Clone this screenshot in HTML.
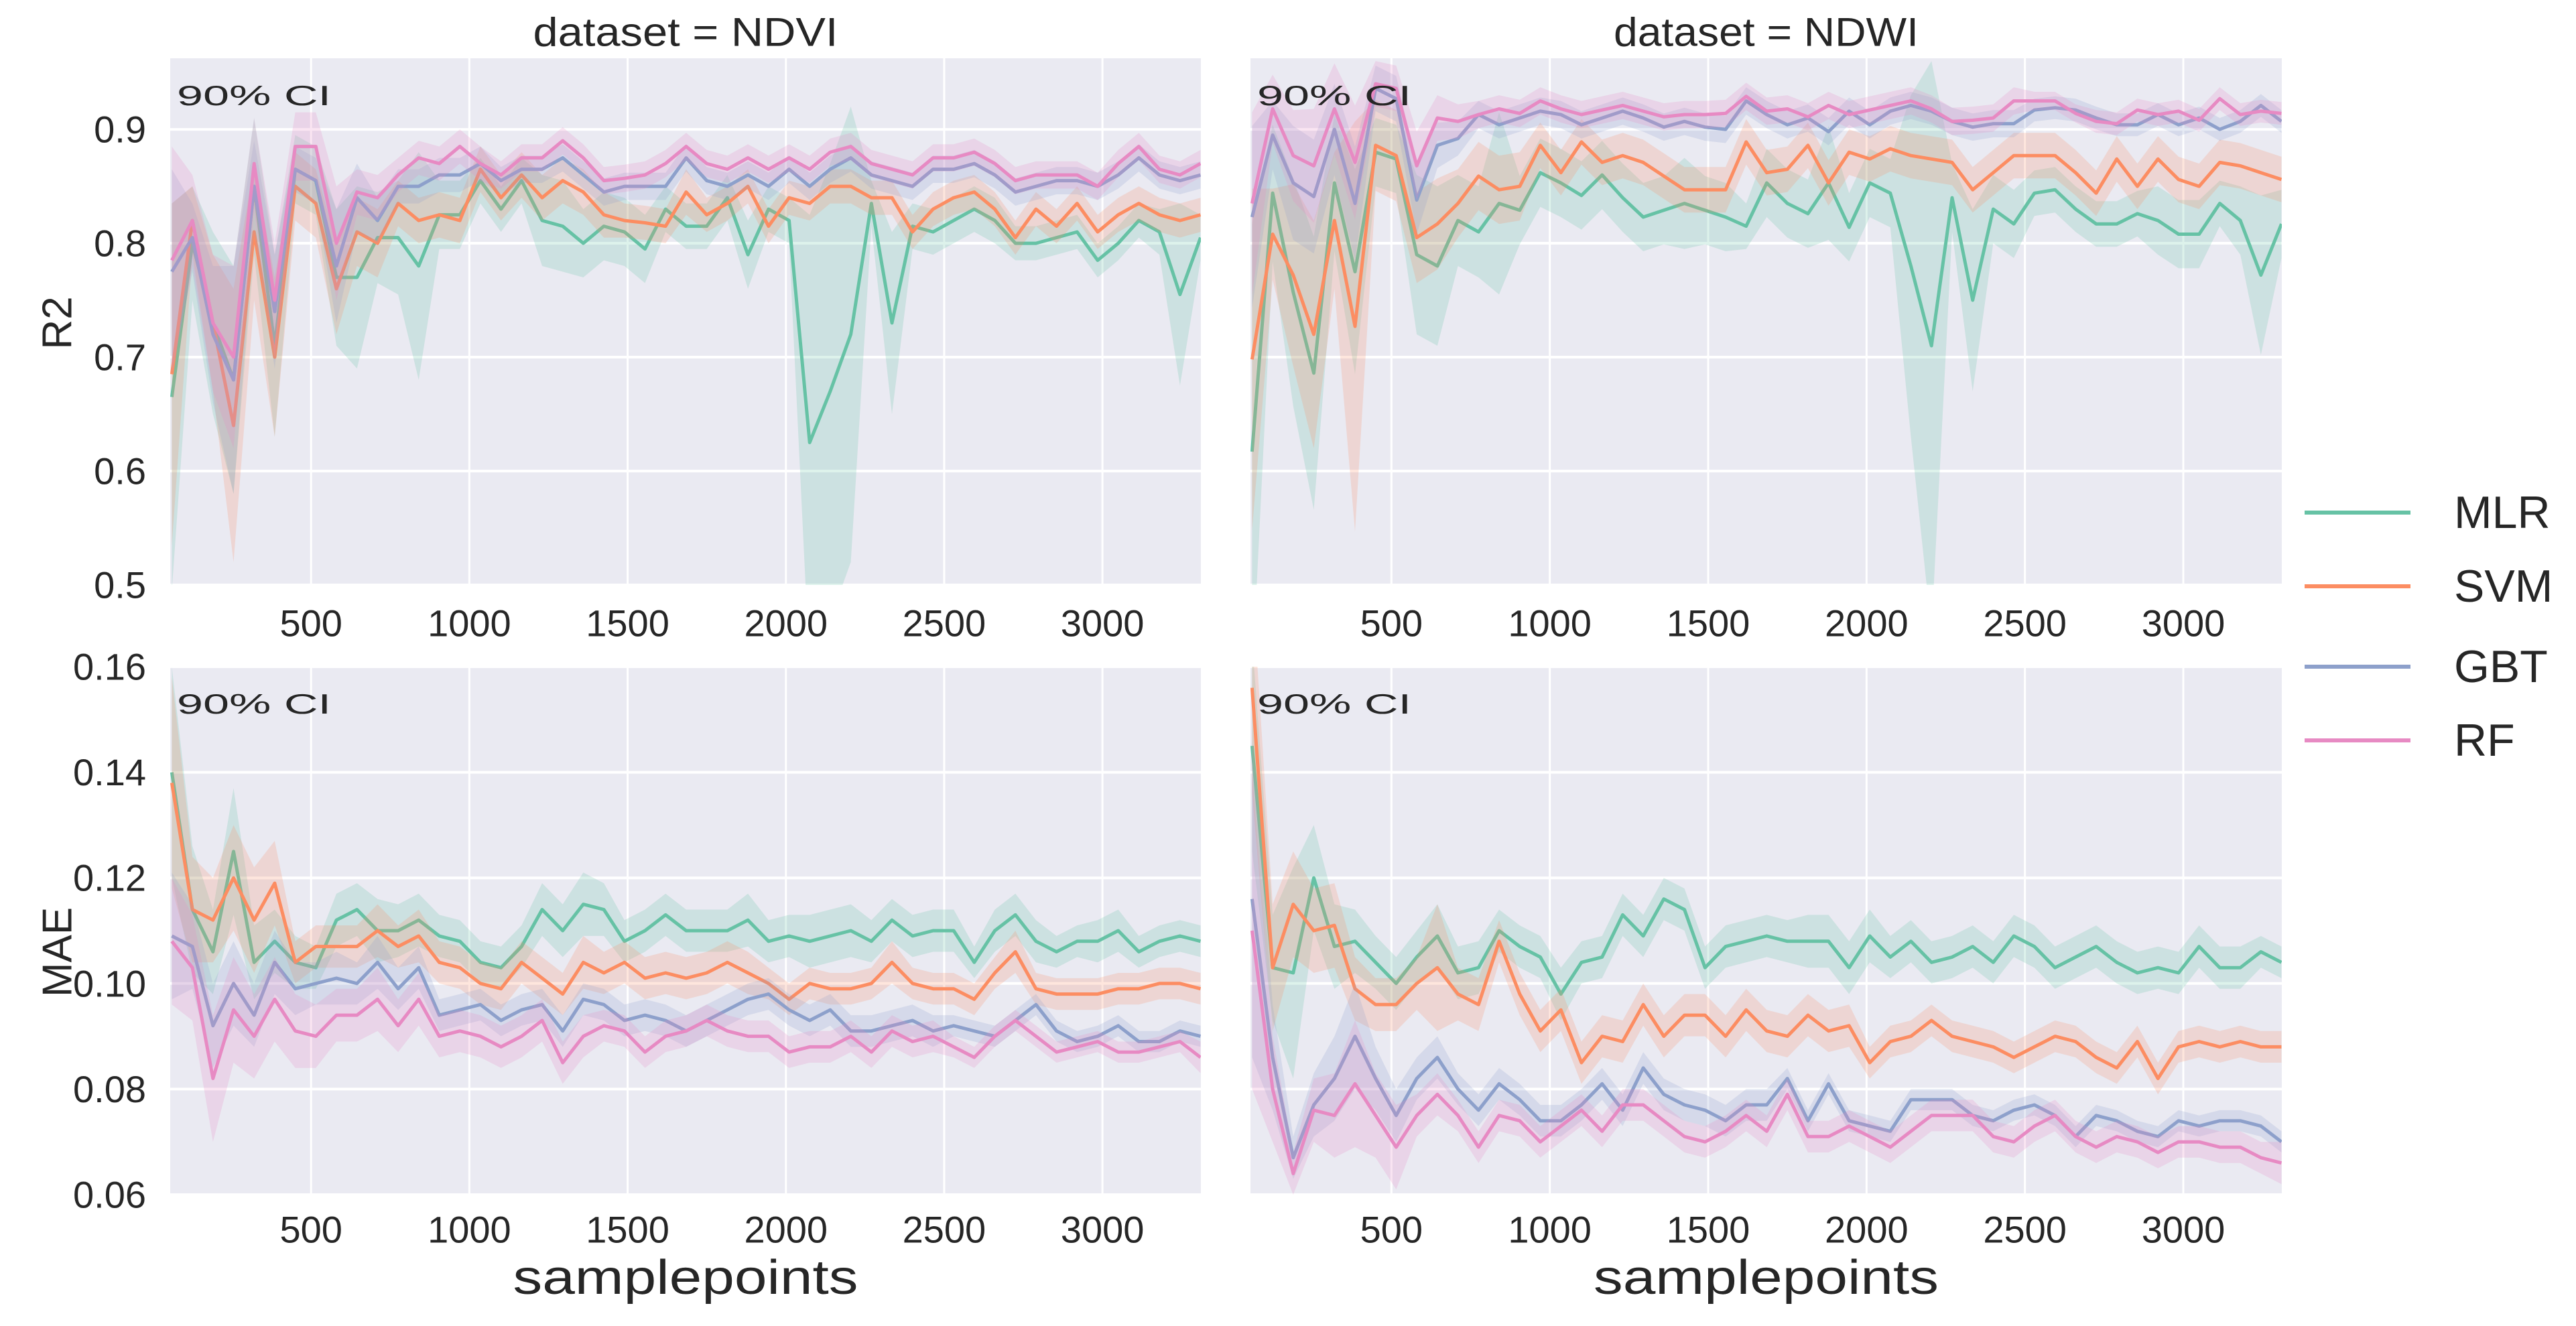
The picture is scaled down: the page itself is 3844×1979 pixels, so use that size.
<!DOCTYPE html>
<html><head><meta charset="utf-8"><title>Learning curves</title>
<style>html,body{margin:0;padding:0;background:#fff}svg{display:block}text{font-family:"Liberation Sans",sans-serif;fill:#262626}</style>
</head><body>
<svg id="chart" xmlns="http://www.w3.org/2000/svg" width="3844" height="1979" viewBox="0 0 3844 1979"></svg>
<script>
// ---- data ----
const modelNames = ["MLR","SVM","GBT","RF"];
const modelColors = ["#66c2a5","#fc8d62","#8da0cb","#e78ac3"];
const xTicks = [500,1000,1500,2000,2500,3000];
const r2Ticks = [0.5,0.6,0.7,0.8,0.9];
const r2TickLabels = ["0.5","0.6","0.7","0.8","0.9"];
const maeTicks = [0.06,0.08,0.10,0.12,0.14,0.16];
const maeTickLabels = ["0.06","0.08","0.10","0.12","0.14","0.16"];
const sampleStart = 60, sampleEnd = 3310;

const ndviR2MLR = [0.665,0.80,0.73,0.68,0.85,0.71,0.865,0.855,0.77,0.77,0.805,0.805,0.78,0.825,0.825,0.855,0.83,0.855,0.82,0.815,0.80,0.815,0.81,0.795,0.83,0.815,0.815,0.84,0.79,0.83,0.82,0.625,0.67,0.72,0.835,0.73,0.815,0.81,0.82,0.83,0.82,0.80,0.80,0.805,0.81,0.785,0.80,0.82,0.81,0.755,0.805];
const ndviR2SVM = [0.685,0.82,0.73,0.64,0.81,0.70,0.85,0.835,0.76,0.81,0.80,0.835,0.82,0.825,0.82,0.865,0.84,0.86,0.84,0.855,0.845,0.825,0.82,0.818,0.815,0.845,0.825,0.835,0.85,0.815,0.84,0.835,0.85,0.85,0.84,0.84,0.81,0.83,0.84,0.845,0.83,0.805,0.83,0.815,0.835,0.81,0.825,0.835,0.825,0.82,0.825];
const ndviR2GBT = [0.775,0.805,0.72,0.68,0.85,0.74,0.865,0.855,0.78,0.84,0.82,0.85,0.85,0.86,0.86,0.87,0.855,0.865,0.865,0.875,0.86,0.845,0.85,0.85,0.85,0.875,0.855,0.85,0.86,0.85,0.865,0.85,0.865,0.875,0.86,0.855,0.85,0.865,0.865,0.87,0.86,0.845,0.85,0.855,0.855,0.85,0.86,0.875,0.86,0.855,0.86];
const ndviR2RF = [0.785,0.82,0.73,0.70,0.87,0.75,0.885,0.885,0.80,0.845,0.84,0.86,0.875,0.87,0.885,0.87,0.86,0.875,0.875,0.89,0.875,0.855,0.857,0.86,0.87,0.885,0.87,0.865,0.875,0.865,0.875,0.865,0.88,0.885,0.87,0.865,0.86,0.875,0.875,0.88,0.87,0.855,0.86,0.86,0.86,0.85,0.87,0.885,0.865,0.86,0.87];
const ndviR2MLRci = [0.17,0.05,0.08,0.1,0.06,0.08,0.03,0.03,0.06,0.08,0.04,0.05,0.1,0.03,0.03,0.02,0.02,0.02,0.04,0.04,0.03,0.03,0.03,0.03,0.02,0.02,0.02,0.02,0.03,0.02,0.02,0.2,0.2,0.2,0.02,0.08,0.02,0.02,0.02,0.02,0.02,0.015,0.015,0.015,0.015,0.015,0.015,0.015,0.02,0.08,0.02];
const ndviR2SVMci = [0.15,0.03,0.06,0.12,0.06,0.07,0.03,0.03,0.04,0.03,0.03,0.02,0.02,0.02,0.02,0.02,0.02,0.02,0.02,0.02,0.02,0.02,0.015,0.015,0.015,0.02,0.015,0.015,0.015,0.015,0.015,0.015,0.015,0.015,0.015,0.015,0.015,0.015,0.015,0.015,0.015,0.015,0.015,0.015,0.015,0.015,0.015,0.015,0.015,0.015,0.015];
const ndviR2GBTci = [0.09,0.03,0.06,0.1,0.04,0.05,0.02,0.02,0.05,0.03,0.02,0.015,0.015,0.015,0.015,0.015,0.012,0.012,0.012,0.012,0.012,0.012,0.012,0.012,0.012,0.012,0.012,0.012,0.012,0.012,0.012,0.012,0.012,0.012,0.012,0.012,0.012,0.012,0.012,0.012,0.012,0.012,0.012,0.012,0.012,0.012,0.012,0.012,0.012,0.012,0.012];
const ndviR2RFci = [0.1,0.04,0.06,0.08,0.04,0.05,0.03,0.03,0.05,0.02,0.02,0.015,0.015,0.015,0.015,0.015,0.012,0.012,0.012,0.012,0.012,0.012,0.012,0.012,0.012,0.012,0.012,0.012,0.012,0.012,0.012,0.012,0.012,0.012,0.012,0.012,0.012,0.012,0.012,0.012,0.012,0.012,0.012,0.012,0.012,0.012,0.012,0.012,0.012,0.012,0.012];

const ndwiR2MLR = [0.617,0.844,0.757,0.686,0.853,0.775,0.88,0.874,0.79,0.78,0.82,0.81,0.835,0.829,0.862,0.853,0.842,0.86,0.84,0.823,0.829,0.835,0.829,0.823,0.815,0.853,0.835,0.826,0.853,0.814,0.853,0.844,0.78,0.71,0.84,0.75,0.83,0.817,0.844,0.847,0.83,0.817,0.817,0.826,0.82,0.808,0.808,0.835,0.82,0.772,0.817];
const ndwiR2SVM = [0.698,0.808,0.772,0.72,0.82,0.727,0.886,0.877,0.805,0.817,0.835,0.859,0.847,0.85,0.886,0.862,0.889,0.871,0.877,0.871,0.859,0.847,0.847,0.847,0.889,0.862,0.865,0.886,0.853,0.88,0.874,0.883,0.877,0.874,0.871,0.847,0.862,0.877,0.877,0.877,0.862,0.844,0.874,0.85,0.874,0.856,0.85,0.871,0.868,0.862,0.856];
const ndwiR2GBT = [0.823,0.895,0.853,0.841,0.9,0.835,0.936,0.927,0.838,0.886,0.892,0.913,0.904,0.91,0.916,0.913,0.904,0.91,0.916,0.91,0.902,0.907,0.902,0.9,0.925,0.913,0.904,0.91,0.898,0.916,0.904,0.916,0.921,0.916,0.907,0.902,0.905,0.905,0.917,0.919,0.917,0.91,0.904,0.904,0.913,0.904,0.91,0.9,0.907,0.921,0.907];
const ndwiR2RF = [0.835,0.918,0.877,0.868,0.918,0.871,0.94,0.936,0.868,0.91,0.907,0.913,0.918,0.914,0.925,0.918,0.913,0.917,0.921,0.916,0.911,0.913,0.913,0.914,0.929,0.916,0.918,0.911,0.921,0.913,0.917,0.921,0.925,0.918,0.907,0.908,0.91,0.925,0.925,0.925,0.914,0.907,0.905,0.917,0.913,0.916,0.908,0.927,0.913,0.916,0.914];
const ndwiR2MLRci = [0.2,0.06,0.1,0.12,0.06,0.09,0.03,0.03,0.07,0.07,0.04,0.04,0.08,0.03,0.03,0.03,0.03,0.03,0.03,0.03,0.03,0.04,0.03,0.03,0.02,0.03,0.03,0.03,0.05,0.03,0.03,0.03,0.15,0.25,0.03,0.08,0.03,0.03,0.02,0.02,0.02,0.02,0.02,0.02,0.03,0.03,0.03,0.02,0.03,0.07,0.03];
const ndwiR2SVMci = [0.15,0.04,0.08,0.1,0.06,0.18,0.04,0.04,0.04,0.04,0.03,0.03,0.03,0.03,0.02,0.02,0.02,0.02,0.02,0.02,0.02,0.02,0.02,0.02,0.02,0.02,0.02,0.02,0.02,0.02,0.02,0.02,0.02,0.02,0.02,0.02,0.02,0.02,0.02,0.02,0.02,0.02,0.02,0.02,0.02,0.02,0.02,0.02,0.02,0.02,0.02];
const ndwiR2GBTci = [0.08,0.03,0.05,0.05,0.04,0.05,0.02,0.02,0.03,0.02,0.015,0.012,0.012,0.012,0.012,0.012,0.012,0.012,0.012,0.012,0.012,0.012,0.012,0.012,0.012,0.012,0.012,0.012,0.012,0.012,0.012,0.012,0.012,0.012,0.012,0.012,0.012,0.012,0.01,0.01,0.01,0.01,0.01,0.01,0.01,0.01,0.01,0.01,0.01,0.01,0.01];
const ndwiR2RFci = [0.08,0.03,0.04,0.05,0.04,0.05,0.02,0.02,0.03,0.02,0.015,0.012,0.012,0.012,0.012,0.012,0.012,0.012,0.012,0.012,0.012,0.012,0.012,0.012,0.012,0.012,0.012,0.012,0.012,0.012,0.012,0.012,0.012,0.012,0.012,0.012,0.012,0.012,0.008,0.008,0.008,0.01,0.01,0.01,0.01,0.01,0.01,0.01,0.01,0.01,0.01];

const ndviMaeMLR = [0.140,0.114,0.106,0.125,0.104,0.108,0.104,0.103,0.112,0.114,0.110,0.110,0.112,0.109,0.108,0.104,0.103,0.107,0.114,0.110,0.115,0.114,0.108,0.110,0.113,0.110,0.110,0.110,0.112,0.108,0.109,0.108,0.109,0.110,0.108,0.112,0.109,0.110,0.110,0.104,0.110,0.113,0.108,0.106,0.108,0.108,0.110,0.106,0.108,0.109,0.108];
const ndviMaeSVM = [0.138,0.114,0.112,0.120,0.112,0.119,0.104,0.107,0.107,0.107,0.110,0.107,0.109,0.104,0.103,0.100,0.099,0.104,0.101,0.098,0.104,0.102,0.104,0.101,0.102,0.101,0.102,0.104,0.102,0.100,0.097,0.100,0.099,0.099,0.100,0.104,0.100,0.099,0.099,0.097,0.102,0.106,0.099,0.098,0.098,0.098,0.099,0.099,0.100,0.100,0.099];
const ndviMaeGBT = [0.109,0.107,0.092,0.100,0.094,0.104,0.099,0.100,0.101,0.100,0.104,0.099,0.103,0.094,0.095,0.096,0.093,0.095,0.096,0.091,0.097,0.096,0.093,0.094,0.093,0.091,0.093,0.095,0.097,0.098,0.095,0.093,0.095,0.091,0.091,0.092,0.093,0.091,0.092,0.091,0.090,0.093,0.096,0.091,0.089,0.090,0.092,0.089,0.089,0.091,0.090];
const ndviMaeRF = [0.108,0.103,0.082,0.095,0.090,0.097,0.091,0.090,0.094,0.094,0.097,0.092,0.097,0.090,0.091,0.090,0.088,0.090,0.093,0.085,0.090,0.092,0.091,0.087,0.090,0.091,0.093,0.091,0.090,0.090,0.087,0.088,0.088,0.090,0.087,0.091,0.089,0.090,0.088,0.086,0.090,0.093,0.090,0.087,0.088,0.089,0.087,0.087,0.088,0.089,0.086];
const ndviMaeMLRci = [0.02,0.012,0.008,0.012,0.007,0.006,0.005,0.004,0.005,0.005,0.006,0.005,0.005,0.004,0.004,0.004,0.004,0.004,0.005,0.005,0.006,0.005,0.004,0.004,0.004,0.004,0.004,0.004,0.005,0.004,0.004,0.005,0.005,0.005,0.004,0.004,0.004,0.004,0.004,0.003,0.004,0.004,0.004,0.003,0.003,0.004,0.004,0.003,0.003,0.003,0.003];
const ndviMaeSVMci = [0.02,0.01,0.008,0.01,0.01,0.008,0.004,0.004,0.004,0.004,0.005,0.004,0.005,0.004,0.004,0.004,0.004,0.004,0.004,0.004,0.005,0.004,0.004,0.004,0.004,0.004,0.004,0.004,0.004,0.003,0.003,0.003,0.003,0.003,0.003,0.004,0.003,0.003,0.003,0.003,0.003,0.004,0.003,0.003,0.003,0.003,0.003,0.003,0.003,0.003,0.003];
const ndviMaeGBTci = [0.012,0.008,0.008,0.008,0.006,0.006,0.005,0.004,0.005,0.004,0.005,0.004,0.004,0.003,0.003,0.003,0.003,0.003,0.003,0.003,0.003,0.003,0.003,0.003,0.003,0.003,0.003,0.003,0.003,0.003,0.003,0.003,0.003,0.003,0.003,0.003,0.003,0.003,0.002,0.002,0.002,0.002,0.002,0.002,0.002,0.002,0.002,0.002,0.002,0.002,0.002];
const ndviMaeRFci = [0.012,0.01,0.012,0.01,0.008,0.008,0.007,0.006,0.005,0.005,0.006,0.005,0.005,0.004,0.004,0.004,0.004,0.004,0.004,0.004,0.004,0.003,0.003,0.003,0.003,0.003,0.003,0.003,0.003,0.003,0.003,0.003,0.003,0.003,0.003,0.003,0.003,0.003,0.002,0.002,0.002,0.002,0.002,0.002,0.002,0.002,0.002,0.002,0.002,0.002,0.003];

const ndwiMaeMLR = [0.145,0.103,0.102,0.120,0.107,0.108,0.104,0.100,0.105,0.109,0.102,0.103,0.110,0.107,0.105,0.098,0.104,0.105,0.113,0.109,0.116,0.114,0.103,0.107,0.108,0.109,0.108,0.108,0.108,0.103,0.109,0.105,0.108,0.104,0.105,0.107,0.104,0.109,0.107,0.103,0.105,0.107,0.104,0.102,0.103,0.102,0.107,0.103,0.103,0.106,0.104];
const ndwiMaeSVM = [0.156,0.103,0.115,0.110,0.111,0.099,0.096,0.096,0.100,0.103,0.098,0.096,0.108,0.098,0.091,0.095,0.085,0.090,0.089,0.096,0.090,0.094,0.094,0.090,0.095,0.091,0.090,0.094,0.091,0.092,0.085,0.089,0.090,0.093,0.090,0.089,0.088,0.086,0.088,0.090,0.089,0.086,0.084,0.089,0.082,0.088,0.089,0.088,0.089,0.088,0.088];
const ndwiMaeGBT = [0.116,0.086,0.067,0.077,0.082,0.090,0.082,0.075,0.082,0.086,0.080,0.076,0.081,0.078,0.074,0.074,0.077,0.081,0.076,0.084,0.079,0.077,0.076,0.074,0.077,0.077,0.082,0.074,0.081,0.074,0.073,0.072,0.078,0.078,0.078,0.075,0.074,0.076,0.077,0.075,0.071,0.075,0.074,0.072,0.071,0.074,0.073,0.074,0.074,0.073,0.070];
const ndwiMaeRF = [0.110,0.080,0.064,0.076,0.075,0.081,0.075,0.069,0.075,0.079,0.075,0.069,0.075,0.074,0.070,0.073,0.076,0.072,0.077,0.077,0.074,0.071,0.070,0.072,0.075,0.072,0.079,0.071,0.071,0.073,0.071,0.069,0.072,0.075,0.075,0.075,0.071,0.070,0.073,0.075,0.071,0.069,0.071,0.070,0.068,0.070,0.070,0.069,0.069,0.067,0.066];
const ndwiMaeMLRci = [0.02,0.01,0.02,0.01,0.008,0.006,0.005,0.005,0.005,0.006,0.005,0.005,0.004,0.004,0.004,0.005,0.004,0.004,0.004,0.004,0.004,0.004,0.004,0.004,0.004,0.004,0.004,0.005,0.005,0.005,0.005,0.004,0.004,0.004,0.004,0.004,0.004,0.004,0.004,0.004,0.004,0.004,0.004,0.004,0.004,0.004,0.004,0.004,0.004,0.003,0.003];
const ndwiMaeSVMci = [0.02,0.012,0.01,0.008,0.008,0.006,0.005,0.005,0.005,0.012,0.005,0.005,0.004,0.004,0.004,0.004,0.004,0.004,0.004,0.004,0.004,0.004,0.004,0.004,0.004,0.004,0.004,0.004,0.004,0.004,0.003,0.003,0.003,0.003,0.003,0.003,0.003,0.003,0.003,0.003,0.003,0.003,0.003,0.003,0.003,0.003,0.003,0.003,0.003,0.003,0.003];
const ndwiMaeGBTci = [0.03,0.01,0.004,0.006,0.008,0.01,0.006,0.005,0.004,0.004,0.003,0.003,0.003,0.003,0.003,0.003,0.003,0.003,0.003,0.003,0.003,0.003,0.003,0.003,0.003,0.003,0.002,0.002,0.002,0.002,0.002,0.002,0.002,0.002,0.002,0.002,0.002,0.002,0.002,0.002,0.002,0.002,0.002,0.002,0.002,0.002,0.002,0.002,0.002,0.002,0.002];
const ndwiMaeRFci = [0.03,0.01,0.004,0.006,0.008,0.012,0.008,0.008,0.004,0.004,0.003,0.003,0.003,0.003,0.003,0.003,0.003,0.003,0.003,0.003,0.003,0.003,0.003,0.003,0.003,0.003,0.003,0.003,0.003,0.003,0.003,0.003,0.003,0.003,0.003,0.003,0.003,0.003,0.003,0.003,0.003,0.003,0.003,0.003,0.003,0.003,0.003,0.003,0.003,0.003,0.004];

// ---- layout ----
const NS = "http://www.w3.org/2000/svg";
const svg = document.getElementById("chart");
function mk(tag, attrs, parent){
  const e = document.createElementNS(NS, tag);
  for (const k in attrs) e.setAttribute(k, attrs[k]);
  (parent||svg).appendChild(e);
  return e;
}
const panels = [
  {id:"ndvi-r2", x0:254, x1:1792, y0:87, y1:873, dmin:0.5, dmax:0.9624, ticks:r2Ticks, labels:r2TickLabels, showY:true, title:"dataset = NDVI",
   series:[ndviR2MLR,ndviR2SVM,ndviR2GBT,ndviR2RF], ci:[ndviR2MLRci,ndviR2SVMci,ndviR2GBTci,ndviR2RFci], xlabelY:930, showXTitle:false},
  {id:"ndwi-r2", x0:1866, x1:3405, y0:87, y1:873, dmin:0.5, dmax:0.9624, ticks:r2Ticks, labels:r2TickLabels, showY:false, title:"dataset = NDWI",
   series:[ndwiR2MLR,ndwiR2SVM,ndwiR2GBT,ndwiR2RF], ci:[ndwiR2MLRci,ndwiR2SVMci,ndwiR2GBTci,ndwiR2RFci], xlabelY:930, showXTitle:false},
  {id:"ndvi-mae", x0:254, x1:1792, y0:995, y1:1783, dmin:0.06, dmax:0.16, ticks:maeTicks, labels:maeTickLabels, showY:true, title:null,
   series:[ndviMaeMLR,ndviMaeSVM,ndviMaeGBT,ndviMaeRF], ci:[ndviMaeMLRci,ndviMaeSVMci,ndviMaeGBTci,ndviMaeRFci], xlabelY:1835, showXTitle:true},
  {id:"ndwi-mae", x0:1866, x1:3405, y0:995, y1:1783, dmin:0.06, dmax:0.16, ticks:maeTicks, labels:maeTickLabels, showY:false, title:null,
   series:[ndwiMaeMLR,ndwiMaeSVM,ndwiMaeGBT,ndwiMaeRF], ci:[ndwiMaeMLRci,ndwiMaeSVMci,ndwiMaeGBTci,ndwiMaeRFci], xlabelY:1835, showXTitle:true}
];
const XMIN = 55, XMAX = 3311;

panels.forEach(p => {
  const g = mk("g", {});
  
  
  const sx = v => p.x0 + (v - XMIN) / (XMAX - XMIN) * (p.x1 - p.x0);
  const sy = v => p.y1 - (v - p.dmin) / (p.dmax - p.dmin) * (p.y1 - p.y0);
  const clipId = "clip-" + p.id;
  const defs = mk("defs", {}, g);
  const cp = mk("clipPath", {id: clipId}, defs);
  mk("rect", {x:p.x0, y:p.y0, width:p.x1-p.x0, height:p.y1-p.y0}, cp);
  const bg = mk("rect", {x:p.x0, y:p.y0, width:p.x1-p.x0, height:p.y1-p.y0, fill:"#eaeaf2"}, g);
  
  
  xTicks.forEach(t => {
    const gl = mk("line", {x1:sx(t), x2:sx(t), y1:p.y0, y2:p.y1, stroke:"#fff", "stroke-width":3}, g);
    
    
    const tl = mk("text", {x:sx(t), y:p.xlabelY, "font-size":56, "text-anchor":"middle", "dominant-baseline":"central"}, g);
    
    
    tl.textContent = t;
  });
  p.ticks.forEach((t, i) => {
    const gl = mk("line", {x1:p.x0, x2:p.x1, y1:sy(t), y2:sy(t), stroke:"#fff", "stroke-width":4}, g);
    
    
    if (p.showY) {
      const tl = mk("text", {x:218, y:sy(t), "font-size":56, "text-anchor":"end", "dominant-baseline":"central"}, g);
      
      
      tl.textContent = p.labels[i];
    }
  });
  const dg = mk("g", {"clip-path":"url(#" + clipId + ")"}, g);
  p.series.forEach((vals, si) => {
    const n = vals.length;
    const xs = vals.map((v, i) => sampleStart + i * (sampleEnd - sampleStart) / (n - 1));
    const ci = p.ci[si];
    let up = "", lo = "";
    vals.forEach((v, i) => { up += (i ? "L" : "M") + sx(xs[i]).toFixed(1) + "," + sy(v + ci[i]).toFixed(1); });
    for (let i = n - 1; i >= 0; i--) lo += "L" + sx(xs[i]).toFixed(1) + "," + sy(vals[i] - ci[i]).toFixed(1);
    const band = mk("path", {d: up + lo + "Z", fill: modelColors[si], "fill-opacity":0.22, stroke:"none"}, dg);
    
    
    let d = "";
    vals.forEach((v, i) => { d += (i ? "L" : "M") + sx(xs[i]).toFixed(1) + "," + sy(v).toFixed(1); });
    const line = mk("path", {d: d, fill:"none", stroke: modelColors[si], "stroke-width":5, "stroke-linejoin":"round"}, dg);
    
    
  });
  const ci = mk("text", {x:p.x0 + 10, y:p.y0 + 70, "font-size":42, "font-family":"DejaVu Sans, sans-serif", textLength:230, lengthAdjust:"spacingAndGlyphs", fill:"#000"}, g);
  
  
  ci.textContent = "90% CI";
  if (p.title) {
    const tt = mk("text", {x:(p.x0 + p.x1) / 2, y:48, "font-size":60, "text-anchor":"middle", "dominant-baseline":"central", textLength:455, lengthAdjust:"spacingAndGlyphs"}, g);
    
    
    tt.textContent = p.title;
  }
  if (p.showXTitle) {
    const xt = mk("text", {x:(p.x0 + p.x1) / 2, y:1907, "font-size":72, "text-anchor":"middle", "dominant-baseline":"central", textLength:515, lengthAdjust:"spacingAndGlyphs"}, g);
    
    
    xt.textContent = "samplepoints";
  }
});

const yt1 = mk("text", {x:0, y:0, "font-size":62, "text-anchor":"middle", "dominant-baseline":"central", transform:"translate(86,482) rotate(-90)"});


yt1.textContent = "R2";
const yt2 = mk("text", {x:0, y:0, "font-size":62, "text-anchor":"middle", "dominant-baseline":"central", transform:"translate(86,1421) rotate(-90)"});


yt2.textContent = "MAE";

const legendY = [765, 875, 995, 1105];
modelNames.forEach((m, i) => {
  const lg = mk("g", {});
  
  
  mk("line", {x1:3439, x2:3597, y1:legendY[i], y2:legendY[i], stroke:modelColors[i], "stroke-width":6}, lg);
  const t = mk("text", {x:3662, y:legendY[i], "font-size":68, "dominant-baseline":"central"}, lg);
  t.textContent = m;
});
</script>
</body></html>
